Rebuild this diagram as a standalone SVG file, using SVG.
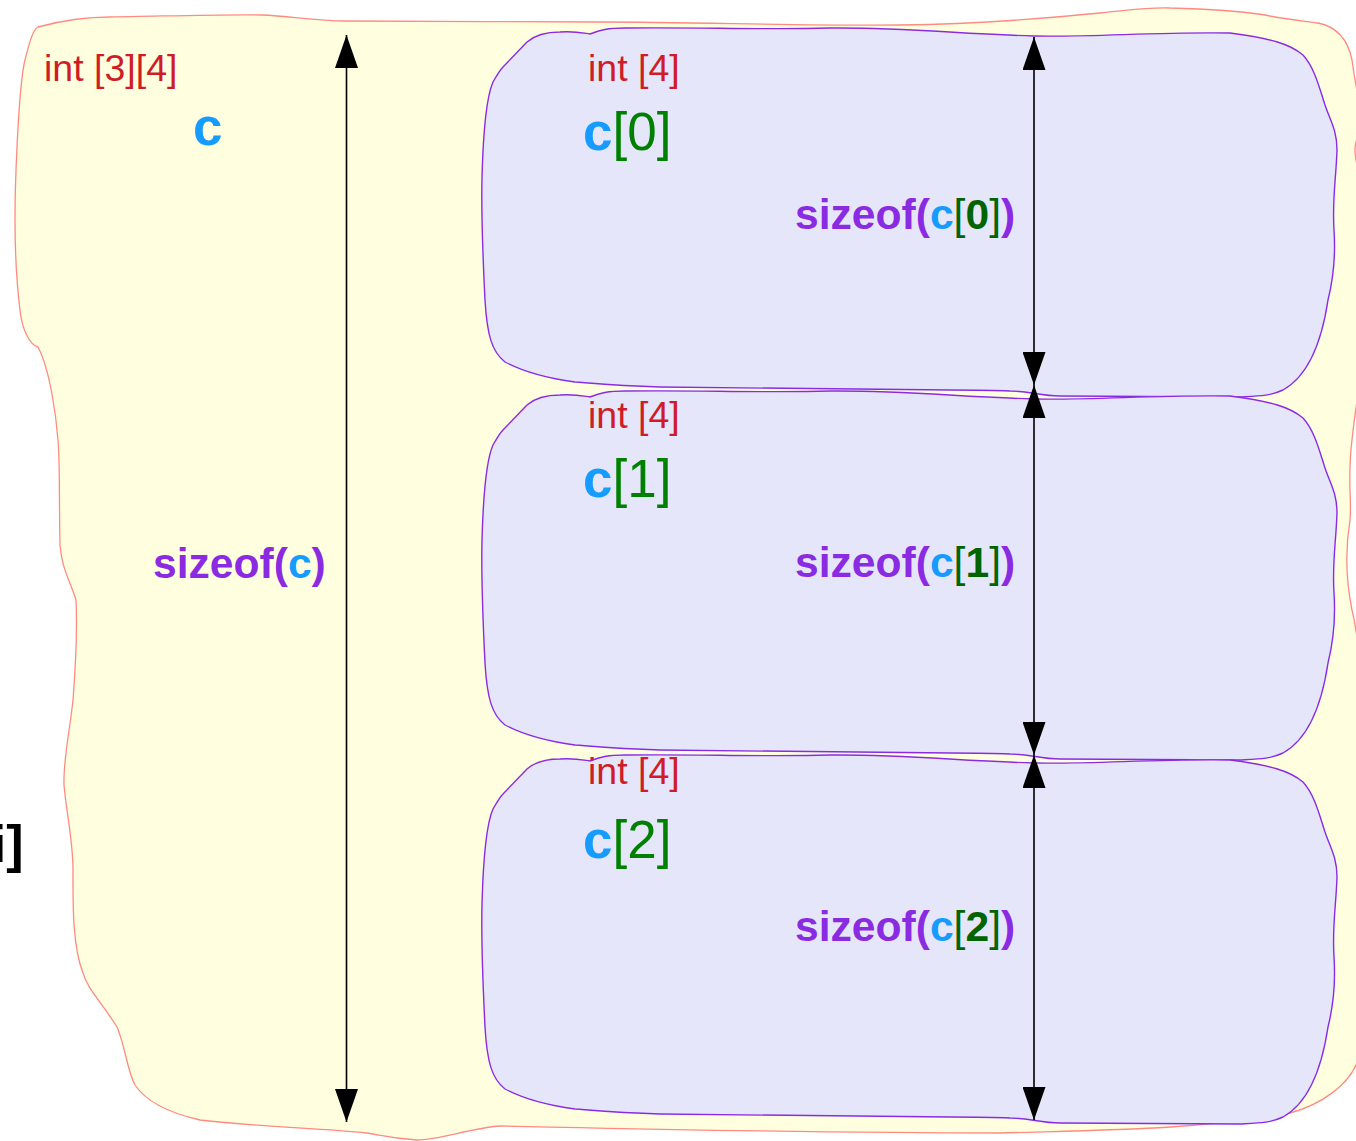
<svg xmlns="http://www.w3.org/2000/svg" xmlns:xlink="http://www.w3.org/1999/xlink" width="1356" height="1141" viewBox="0 0 1356 1141">
<style>
  .outer { fill: #ffffe0; stroke: #ff8a80; stroke-width: 1.3; }
  .blob { fill: #e6e6fa; stroke: #8a2be2; stroke-width: 1.4; }
  .arr { stroke: #000; stroke-width: 1.6; fill: none; marker-start: url(#ah); marker-end: url(#ah); }
  text { font-family: "Liberation Sans", Arial, sans-serif; }
  .type { font-size: 37.5px; fill: #cf1d28; }
  .name { font-size: 53px; }
  .sz { font-size: 42.6px; font-weight: bold; fill: #8a2be2; }
  .c { fill: #169bff; font-weight: bold; }
  .g { fill: #008000; font-weight: normal; }
  .dg { fill: #006400; }
  .dgn { fill: #006400; font-weight: normal; }
</style>
<defs>
  <marker id="ah" viewBox="0 0 33 23" refX="33" refY="11.5" markerWidth="33" markerHeight="23" markerUnits="userSpaceOnUse" orient="auto-start-reverse">
    <path d="M0,0 L33,11.5 L0,23 Z" fill="#000"/>
  </marker>
  <path id="blobShape" d="M482,177 C483,140 485,100 493,82 C497,75 500,70 503,67 L527,42 C535,35 545,32 560,32 C575,31 583,33 590,34 C600,30 608,28 625,28 C700,27 760,30 830,28 C900,27 960,34 1034,36 C1100,37 1150,32 1230,33 C1270,38 1290,44 1303,55 C1315,68 1320,90 1325,105 C1330,120 1337,130 1337,150 C1336,180 1332,200 1334,230 C1336,260 1333,280 1328,300 C1322,340 1310,375 1283,390 C1270,396 1260,396 1240,397 C1180,397 1120,396 1060,396 C1040,396 1030,391 1010,391 C990,390 970,390 950,390 C850,389 750,388 660,387 C620,386 600,384 575,382 C545,378 520,370 505,362 C492,352 487,335 485,300 C483,260 481,220 482,177 Z"/>
</defs>

<g id="outer">
  <path class="outer" d="M38,27 C60,21 85,17 110,17 C170,16 230,14 262,15 C290,16 315,21 345,21 C420,21 520,22 600,22 C700,22 800,26 900,25 C980,24 1050,18 1100,13 C1130,10 1150,7 1170,8 C1210,9 1240,11 1265,15 C1290,20 1305,21 1318,23 C1338,27 1348,40 1352,60 C1356,90 1362,110 1360,130 C1357,140 1353,145 1356,160 C1362,190 1360,230 1360,270 C1360,300 1362,320 1362,340 C1362,380 1356,400 1352,440 C1347,480 1352,500 1350,520 C1345,550 1346,580 1352,610 C1362,650 1366,750 1364,800 C1362,900 1364,1000 1358,1060 C1350,1085 1320,1105 1290,1113 C1200,1130 1100,1130 1000,1133 C800,1133 600,1128 500,1126 C470,1128 440,1140 417,1140 C390,1138 380,1135 367,1133 C320,1128 260,1127 200,1120 C165,1112 145,1100 135,1085 C127,1070 125,1045 117,1027 C100,1000 88,990 83,973 C72,945 73,900 73,870 C73,840 66,810 64,785 C63,760 70,730 73,700 C76,660 77,620 76,600 C70,580 62,570 60,545 C59,500 60,460 58,440 C56,415 50,370 38,347 C30,345 22,330 20,310 C15,270 14,220 16,170 C18,120 20,80 25,60 C30,40 33,30 38,27 Z"/>
  <text class="type" x="44" y="81">int [3][4]</text>
  <text class="name c" x="193" y="145" font-size="54">c</text>
</g>

<g id="c0">
  <use xlink:href="#blobShape" class="blob"/>
  <text class="type" x="588" y="81">int [4]</text>
  <text class="name" x="583" y="150"><tspan class="c">c</tspan><tspan class="g">[0]</tspan></text>
</g>

<g id="c1">
  <use xlink:href="#blobShape" class="blob" transform="translate(0,363)"/>
  <text class="type" x="588" y="428">int [4]</text>
  <text class="name" x="583" y="497"><tspan class="c">c</tspan><tspan class="g">[1]</tspan></text>
</g>

<g id="c2">
  <use xlink:href="#blobShape" class="blob" transform="translate(0,727)"/>
  <text class="type" x="588" y="784">int [4]</text>
  <text class="name" x="583" y="858"><tspan class="c">c</tspan><tspan class="g">[2]</tspan></text>
</g>

<g id="connectors">
  <line class="arr" x1="346.5" y1="35" x2="346.5" y2="1122"/>
  <line class="arr" x1="1034" y1="37" x2="1034" y2="385"/>
  <line class="arr" x1="1034" y1="385" x2="1034" y2="755"/>
  <line class="arr" x1="1034" y1="755" x2="1034" y2="1120"/>
</g>

<g id="labels">
  <text class="sz" x="153" y="578">sizeof(<tspan class="c">c</tspan>)</text>
  <text class="sz" x="795" y="229">sizeof(<tspan class="c">c</tspan><tspan class="dgn">[</tspan><tspan class="dg">0</tspan><tspan class="dgn">]</tspan>)</text>
  <text class="sz" x="795" y="577">sizeof(<tspan class="c">c</tspan><tspan class="dgn">[</tspan><tspan class="dg">1</tspan><tspan class="dgn">]</tspan>)</text>
  <text class="sz" x="795" y="941">sizeof(<tspan class="c">c</tspan><tspan class="dgn">[</tspan><tspan class="dg">2</tspan><tspan class="dgn">]</tspan>)</text>
</g>

<g id="cut-label">
  <text x="23.5" y="862" text-anchor="end" font-size="52" font-weight="bold" fill="#000">i]</text>
</g>
</svg>
